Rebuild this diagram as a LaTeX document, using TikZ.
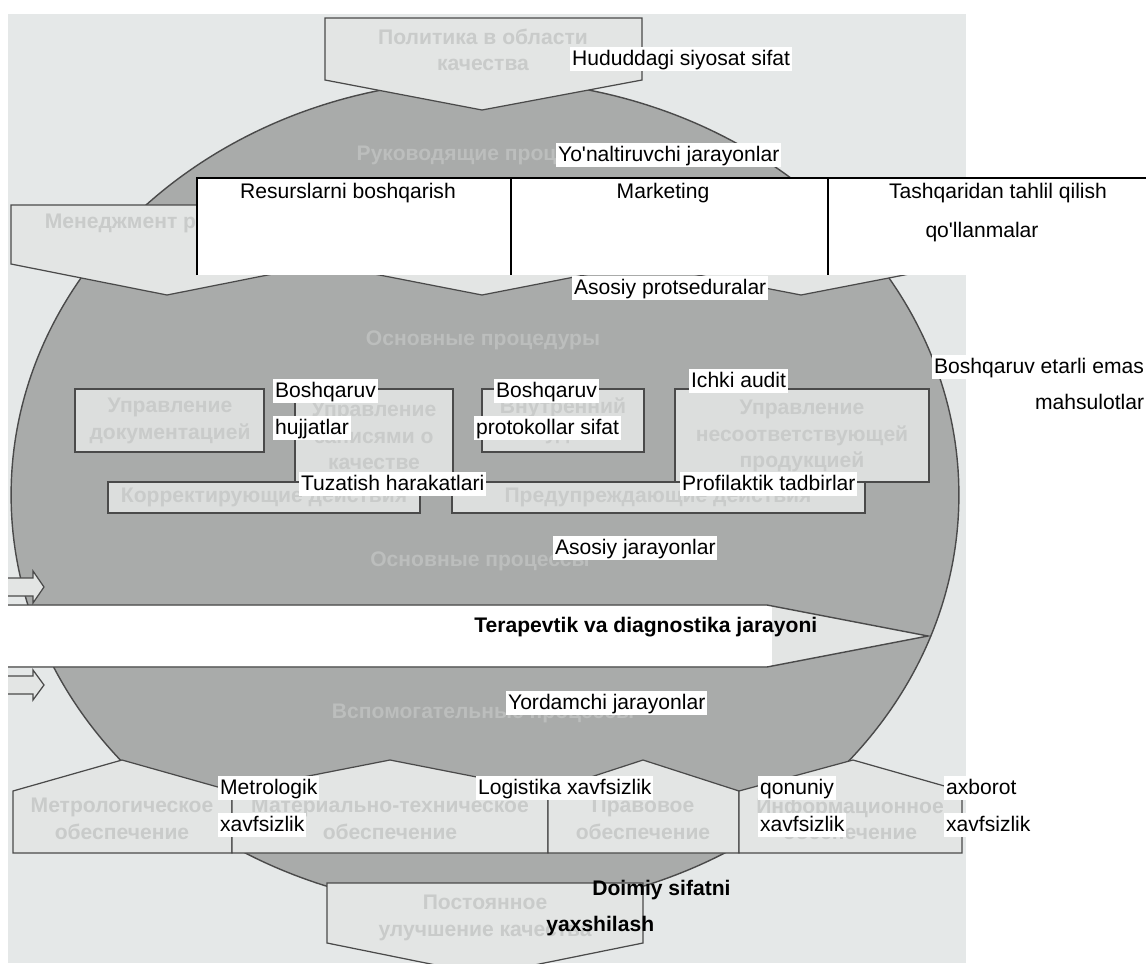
\documentclass[tikz,border=0pt]{standalone}
\usepackage{fontspec}
\setmainfont{Liberation Sans}
\definecolor{scanbg}{HTML}{E5E8E8}
\definecolor{discfill}{HTML}{A9ABAA}
\definecolor{shapefill}{HTML}{E3E5E4}
\definecolor{boxfill}{HTML}{DCDEDD}
\definecolor{edgecol}{HTML}{4A4A4A}
\definecolor{ghostlight}{HTML}{C9CBCA}
\definecolor{ghostdark}{HTML}{BCBEBD}
\tikzset{
  shp/.style={fill=shapefill, draw=edgecol, line width=0.7pt, line join=miter},
  innerbox/.style={fill=boxfill, draw=edgecol, line width=0.8pt},
  lbl/.style={fill=white, inner xsep=1pt, inner ysep=1pt, text height=9.5pt, text depth=2.5pt,
              font=\fontsize{12}{14}\selectfont, anchor=west},
  plainlbl/.style={inner sep=0pt, font=\fontsize{12}{14}\selectfont},
  boldlbl/.style={inner sep=0pt, font=\fontsize{12}{14}\selectfont\bfseries, anchor=west},
  ghost/.style={text=ghostlight, font=\fontsize{12}{15}\selectfont\bfseries, align=center, inner sep=0pt},
  ghostd/.style={ghost, text=ghostdark},
}
\begin{document}
\begin{tikzpicture}[x=0.02cm, y=-0.02cm]
\useasboundingbox (0,0) rectangle (1146,974);
\fill[white] (0,0) rectangle (1146,974);
\begin{scope}
  \clip (8,14) rectangle (966,963);
  \fill[scanbg] (8,14) rectangle (966,963);
  % large disc
  \filldraw[fill=discfill, draw=edgecol, line width=0.8pt] (485,495) ellipse [x radius=9.48cm, y radius=8.3cm];
  % top pentagon
  \path[shp] (325,18) -- (642,18) -- (642,80) -- (482,110) -- (325,80) -- cycle;
  % row of downward pentagons
  \path[shp] (11,205) -- (323,205) -- (323,264) -- (167,295) -- (11,264) -- cycle;
  \path[shp] (323,205) -- (641,205) -- (641,264) -- (482,295) -- (323,264) -- cycle;
  \path[shp] (641,205) -- (961,205) -- (961,264) -- (801,295) -- (641,264) -- cycle;
  % inner boxes
  \path[innerbox] (75,389) rectangle (264,452);
  \path[innerbox] (295,389) rectangle (453,482);
  \path[innerbox] (482,389) rectangle (644,452);
  \path[innerbox] (675,389) rectangle (929,482);
  \path[innerbox] (108,482) rectangle (420,513);
  \path[innerbox] (452,482) rectangle (865,513);
  % main arrow
  \path[fill=shapefill] (6,605) -- (767,605) -- (928,636) -- (767,667) -- (6,667) -- cycle;
  \fill[white] (6,606) rectangle (772,666);
  \draw[edgecol, line width=0.8pt] (6,605) -- (767,605) -- (928,636) -- (767,667) -- (6,667);
  % input arrows
  \path[shp] (4,578) -- (33,578) -- (33,571) -- (44,587) -- (33,603) -- (33,596) -- (4,596) -- cycle;
  \path[shp] (4,676) -- (33,676) -- (33,670) -- (44,685) -- (33,700) -- (33,694) -- (4,694) -- cycle;
  % bottom row of upward pentagons
  \path[shp] (13,853) -- (13,791) -- (122,760) -- (232,791) -- (232,853) -- cycle;
  \path[shp] (232,853) -- (232,791) -- (390,760) -- (548,791) -- (548,853) -- cycle;
  \path[shp] (548,853) -- (548,791) -- (643,760) -- (739,791) -- (739,853) -- cycle;
  \path[shp] (739,853) -- (739,791) -- (853,760) -- (962,791) -- (962,853) -- cycle;
  % bottom arrow
  \path[shp] (327,883) -- (643,883) -- (643,943) -- (485,975) -- (327,943) -- cycle;
  % faint original texts
  \node[ghost] (g1) at (483,50) {Политика в области\\качества};
  \node[ghostd] (g2) at (483,155) {Руководящие процессы};
  \node[ghost] (g3) at (163,223) {Менеджмент ресурсов};
  \node[ghostd] (g4) at (483,340) {Основные процедуры};
  \node[ghost] (g5) at (170,421) {Управление\\документацией};
  \node[ghost] (g6) at (374,436) {Управление\\записями о\\качестве};
  \node[ghost] (g7) at (563,421) {Внутренний\\аудит};
  \node[ghost] (g8) at (802,436) {Управление\\несоответствующей\\продукцией};
  \node[ghost] (g9) at (264,497) {Корректирующие действия};
  \node[ghost] (g10) at (658,497) {Предупреждающие действия};
  \node[ghostd] (g11) at (480,561) {Основные процессы};
  \node[ghostd] (g12) at (483,713) {Вспомогательные процессы};
  \node[ghost] (g13) at (122,819) {Метрологическое\\обеспечение};
  \node[ghost] (g14) at (390,819) {Материально-техническое\\обеспечение};
  \node[ghost] (g15) at (643,819) {Правовое\\обеспечение};
  \node[ghost] (g16) at (850,819) {Информационное\\обеспечение};
  \node[ghost] (g17) at (485,918) {Постоянное\\улучшение качества};
\end{scope}
% white translation table at the top
\fill[white] (197,178) rectangle (1146,275);
\draw[black, line width=1pt] (197,275) -- (197,178) -- (1146,178);
\draw[black, line width=1pt] (511,178) -- (511,275);
\draw[black, line width=1pt] (828,178) -- (828,275);
\node[plainlbl] (res) at (348,193) {Resurslarni boshqarish};
\node[plainlbl] (mkt) at (663,193) {Marketing};
\node[plainlbl] (tash) at (998,193) {Tashqaridan tahlil qilish};
\node[plainlbl] (qol) at (982,232) {qo\textquotesingle llanmalar};
% labels
\node[lbl] (hud) at (570,59) {Hududdagi siyosat sifat};
\node[lbl] (yon) at (556,155) {Yo\textquotesingle naltiruvchi jarayonlar};
\node[lbl] (asp) at (572,288) {Asosiy protseduralar};
\node[lbl] (bem) at (932,367) {Boshqaruv etarli emas};
\node[lbl] (mah) at (1033,403) {mahsulotlar};
\node[lbl] (b1) at (273,391) {Boshqaruv};
\node[lbl] (huj) at (273,428) {hujjatlar};
\node[lbl] (b2) at (494,391) {Boshqaruv};
\node[lbl] (prot) at (474,428) {protokollar sifat};
\node[lbl] (ichki) at (689,381) {Ichki audit};
\node[lbl] (tuz) at (299,484) {Tuzatish harakatlari};
\node[lbl] (prof) at (680,484) {Profilaktik tadbirlar};
\node[lbl] (asj) at (553,548) {Asosiy jarayonlar};
\node[boldlbl] (terap) at (474,627) {Terapevtik va diagnostika jarayoni};
\node[lbl] (yord) at (506,703) {Yordamchi jarayonlar};
\node[lbl] (met) at (218,788) {Metrologik};
\node[lbl] (metx) at (218,825) {xavfsizlik};
\node[lbl] (log) at (476,788) {Logistika xavfsizlik};
\node[lbl] (qon) at (758,788) {qonuniy};
\node[lbl] (qonx) at (758,825) {xavfsizlik};
\node[lbl] (axb) at (944,788) {axborot};
\node[lbl] (axbx) at (944,825) {xavfsizlik};
\node[boldlbl] (doi) at (592,890) {Doimiy sifatni};
\node[boldlbl] (yax) at (546,926) {yaxshilash};
\end{tikzpicture}
\end{document}
